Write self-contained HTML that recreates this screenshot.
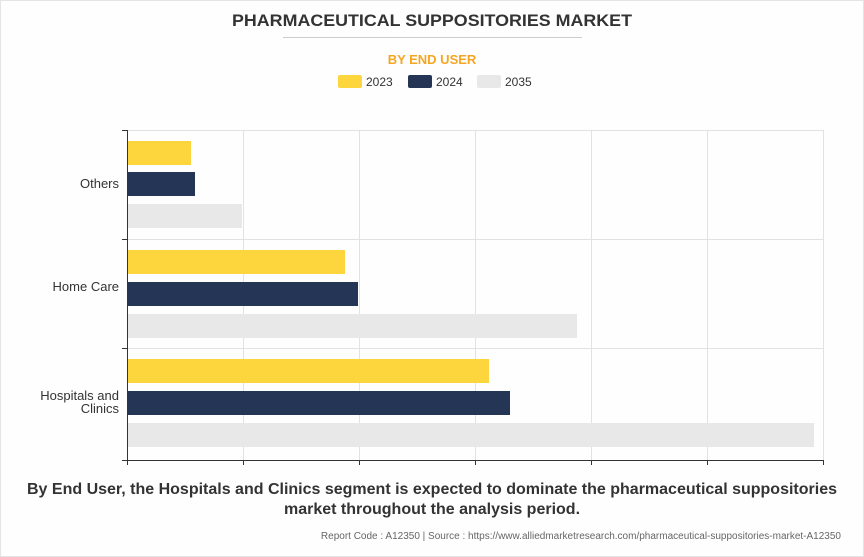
<!DOCTYPE html>
<html><head><meta charset="utf-8"><style>
html,body{margin:0;padding:0;background:#fff;}
body{width:864px;height:557px;overflow:hidden;}
svg{display:block;font-family:"Liberation Sans",Arial,sans-serif;}
</style></head><body>
<svg width="864" height="557" viewBox="0 0 864 557">
<rect x="0.5" y="0.5" width="863" height="556" fill="#fefefe" stroke="#e4e4e4"/>
<text x="432" y="26" text-anchor="middle" font-size="17" font-weight="bold" fill="#333" textLength="400" lengthAdjust="spacingAndGlyphs">PHARMACEUTICAL SUPPOSITORIES MARKET</text>
<line x1="283" y1="37.5" x2="582" y2="37.5" stroke="#ccc" stroke-width="1"/>
<text x="432" y="64" text-anchor="middle" font-size="13" font-weight="bold" fill="#f5a623">BY END USER</text>
<rect x="338" y="75" width="24" height="13" rx="2" fill="#fdd53c"/>
<text x="366" y="86" font-size="12" fill="#333">2023</text>
<rect x="408" y="75" width="24" height="13" rx="2" fill="#243556"/>
<text x="436" y="86" font-size="12" fill="#333">2024</text>
<rect x="477" y="75" width="24" height="13" rx="2" fill="#e8e8e8"/>
<text x="505" y="86" font-size="12" fill="#333">2035</text>
<g stroke="#e2e2e2" stroke-width="1">
<line x1="243.5" y1="130" x2="243.5" y2="460"/>
<line x1="359.5" y1="130" x2="359.5" y2="460"/>
<line x1="475.5" y1="130" x2="475.5" y2="460"/>
<line x1="591.5" y1="130" x2="591.5" y2="460"/>
<line x1="707.5" y1="130" x2="707.5" y2="460"/>
<line x1="823.5" y1="130" x2="823.5" y2="460"/>
<line x1="127" y1="130.5" x2="823" y2="130.5"/>
<line x1="127" y1="239.5" x2="823" y2="239.5"/>
<line x1="127" y1="348.5" x2="823" y2="348.5"/>
</g>
<rect x="127" y="141" width="64" height="24" fill="#fdd53c"/>
<rect x="127" y="172" width="68" height="24" fill="#243556"/>
<rect x="127" y="204" width="115" height="24" fill="#e8e8e8"/>
<rect x="127" y="250" width="218" height="24" fill="#fdd53c"/>
<rect x="127" y="282" width="231" height="24" fill="#243556"/>
<rect x="127" y="314" width="450" height="24" fill="#e8e8e8"/>
<rect x="127" y="359" width="362" height="24" fill="#fdd53c"/>
<rect x="127" y="391" width="383" height="24" fill="#243556"/>
<rect x="127" y="423" width="687" height="24" fill="#e8e8e8"/>
<g stroke="#333" stroke-width="1">
<line x1="127.5" y1="130" x2="127.5" y2="460"/>
<line x1="127" y1="460.5" x2="823" y2="460.5"/>
<line x1="122" y1="130.5" x2="127" y2="130.5"/>
<line x1="122" y1="239.5" x2="127" y2="239.5"/>
<line x1="122" y1="348.5" x2="127" y2="348.5"/>
<line x1="122" y1="460.5" x2="127" y2="460.5"/>
<line x1="127.5" y1="460" x2="127.5" y2="465"/>
<line x1="243.5" y1="460" x2="243.5" y2="465"/>
<line x1="359.5" y1="460" x2="359.5" y2="465"/>
<line x1="475.5" y1="460" x2="475.5" y2="465"/>
<line x1="591.5" y1="460" x2="591.5" y2="465"/>
<line x1="707.5" y1="460" x2="707.5" y2="465"/>
<line x1="823.5" y1="460" x2="823.5" y2="465"/>
</g>
<g font-size="13" fill="#333" text-anchor="end">
<text x="119" y="188">Others</text>
<text x="119" y="291">Home Care</text>
<text x="119" y="400">Hospitals and</text>
<text x="119" y="413">Clinics</text>
</g>
<text x="432" y="494" text-anchor="middle" font-size="16" font-weight="bold" fill="#333">By End User, the Hospitals and Clinics segment is expected to dominate the pharmaceutical suppositories</text>
<text x="432" y="514" text-anchor="middle" font-size="16" font-weight="bold" fill="#333">market throughout the analysis period.</text>
<text x="841" y="539" text-anchor="end" font-size="10" fill="#666">Report Code : A12350  |  Source : https://www.alliedmarketresearch.com/pharmaceutical-suppositories-market-A12350</text>
</svg>
</body></html>
